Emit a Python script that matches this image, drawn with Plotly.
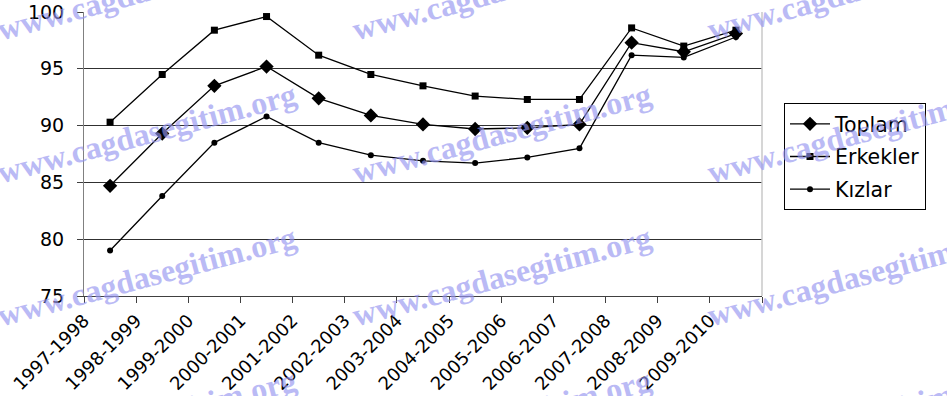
import numpy as np
import plotly.graph_objects as go

# School years on the x axis
categories = [
    "1997-1998", "1998-1999", "1999-2000", "2000-2001", "2001-2002",
    "2002-2003", "2003-2004", "2004-2005", "2005-2006", "2006-2007",
    "2007-2008", "2008-2009", "2009-2010",
]

# Enrolment rates (%)
toplam = [84.7, 89.3, 93.5, 95.2, 92.4, 90.9, 90.1, 89.7, 89.8, 90.1, 97.3, 96.5, 98.1]
erkekler = [90.3, 94.5, 98.4, 99.6, 96.2, 94.5, 93.5, 92.6, 92.3, 92.3, 98.6, 97.0, 98.4]
kizlar = [79.0, 83.8, 88.5, 90.8, 88.5, 87.4, 86.9, 86.7, 87.2, 88.0, 96.2, 96.0, 97.8]

y_ticks = [75, 80, 85, 90, 95, 100]

watermark = "www.cagdasegitim.org"

# Points sit in the middle of each category slot; labels mark the slot edges
n = len(categories)
x_pos = np.arange(n) + 0.5
x_edges = np.arange(n + 1)
x_labels = categories + [""]

FONT = "DejaVu Sans"

series = [
    ("Toplam", toplam, "diamond", 11),
    ("Erkekler", erkekler, "square", 7),
    ("Kızlar", kizlar, "circle", 6),
]

fig = go.Figure()
for name, values, symbol, size in series:
    fig.add_trace(go.Scatter(
        x=x_pos, y=values, name=name, legendgroup=name,
        mode="lines+markers",
        line=dict(color="black", width=1.3),
        marker=dict(symbol=symbol, size=size, color="black"),
        cliponaxis=False,
    ))

W, H = 947, 396
ML, MR, MT, MB = 84, 185, 12, 100
PW, PH = W - ML - MR, H - MT - MB


def px_to_paper(px, py):
    return (px - ML) / PW, (H - MB - py) / PH


# Site watermark repeated across the page
annotations = []
for cy in (-10, 133, 276, 419):
    for cx in (147, 502, 857):
        ax, ay = px_to_paper(cx, cy)
        annotations.append(dict(
            text=watermark, x=ax, y=ay, xref="paper", yref="paper",
            xanchor="center", yanchor="middle", showarrow=False,
            textangle=-15, opacity=0.65,
            font=dict(family="Liberation Serif", size=32, color="rgb(150,150,240)",
                      weight="bold"),
        ))

lx, ly = px_to_paper(784, 103)

fig.update_layout(
    width=W, height=H,
    margin=dict(l=ML, r=MR, t=MT, b=MB, autoexpand=False),
    paper_bgcolor="white", plot_bgcolor="white",
    font=dict(family=FONT, color="black"),
    showlegend=True,
    legend=dict(
        x=lx, y=ly, xanchor="left", yanchor="top",
        bgcolor="white", bordercolor="black", borderwidth=1,
        font=dict(family=FONT, size=20.5, color="black"),
        tracegroupgap=3, traceorder="grouped", itemwidth=40,
    ),
    xaxis=dict(
        range=[0, n], tickmode="array", tickvals=x_edges, ticktext=x_labels,
        tickangle=-45, ticks="outside", ticklen=6, tickcolor="#404040",
        showline=True, linecolor="#404040", linewidth=1,
        showgrid=False, zeroline=False,
        tickfont=dict(family=FONT, size=18, color="black"),
    ),
    yaxis=dict(
        range=[75, 100], tickmode="array", tickvals=y_ticks,
        ticks="outside", ticklen=6, tickcolor="#404040",
        showline=True, linecolor="#808080", linewidth=1,
        showgrid=True, gridcolor="#303030", gridwidth=1, zeroline=False,
        ticklabelstandoff=9,
        tickfont=dict(family=FONT, size=19, color="black"),
    ),
    shapes=[dict(type="line", xref="paper", yref="paper", x0=1, x1=1, y0=0, y1=1,
                 line=dict(color="#c8c8c8", width=1.5))],
    annotations=annotations,
)

fig.write_html("out.html")
